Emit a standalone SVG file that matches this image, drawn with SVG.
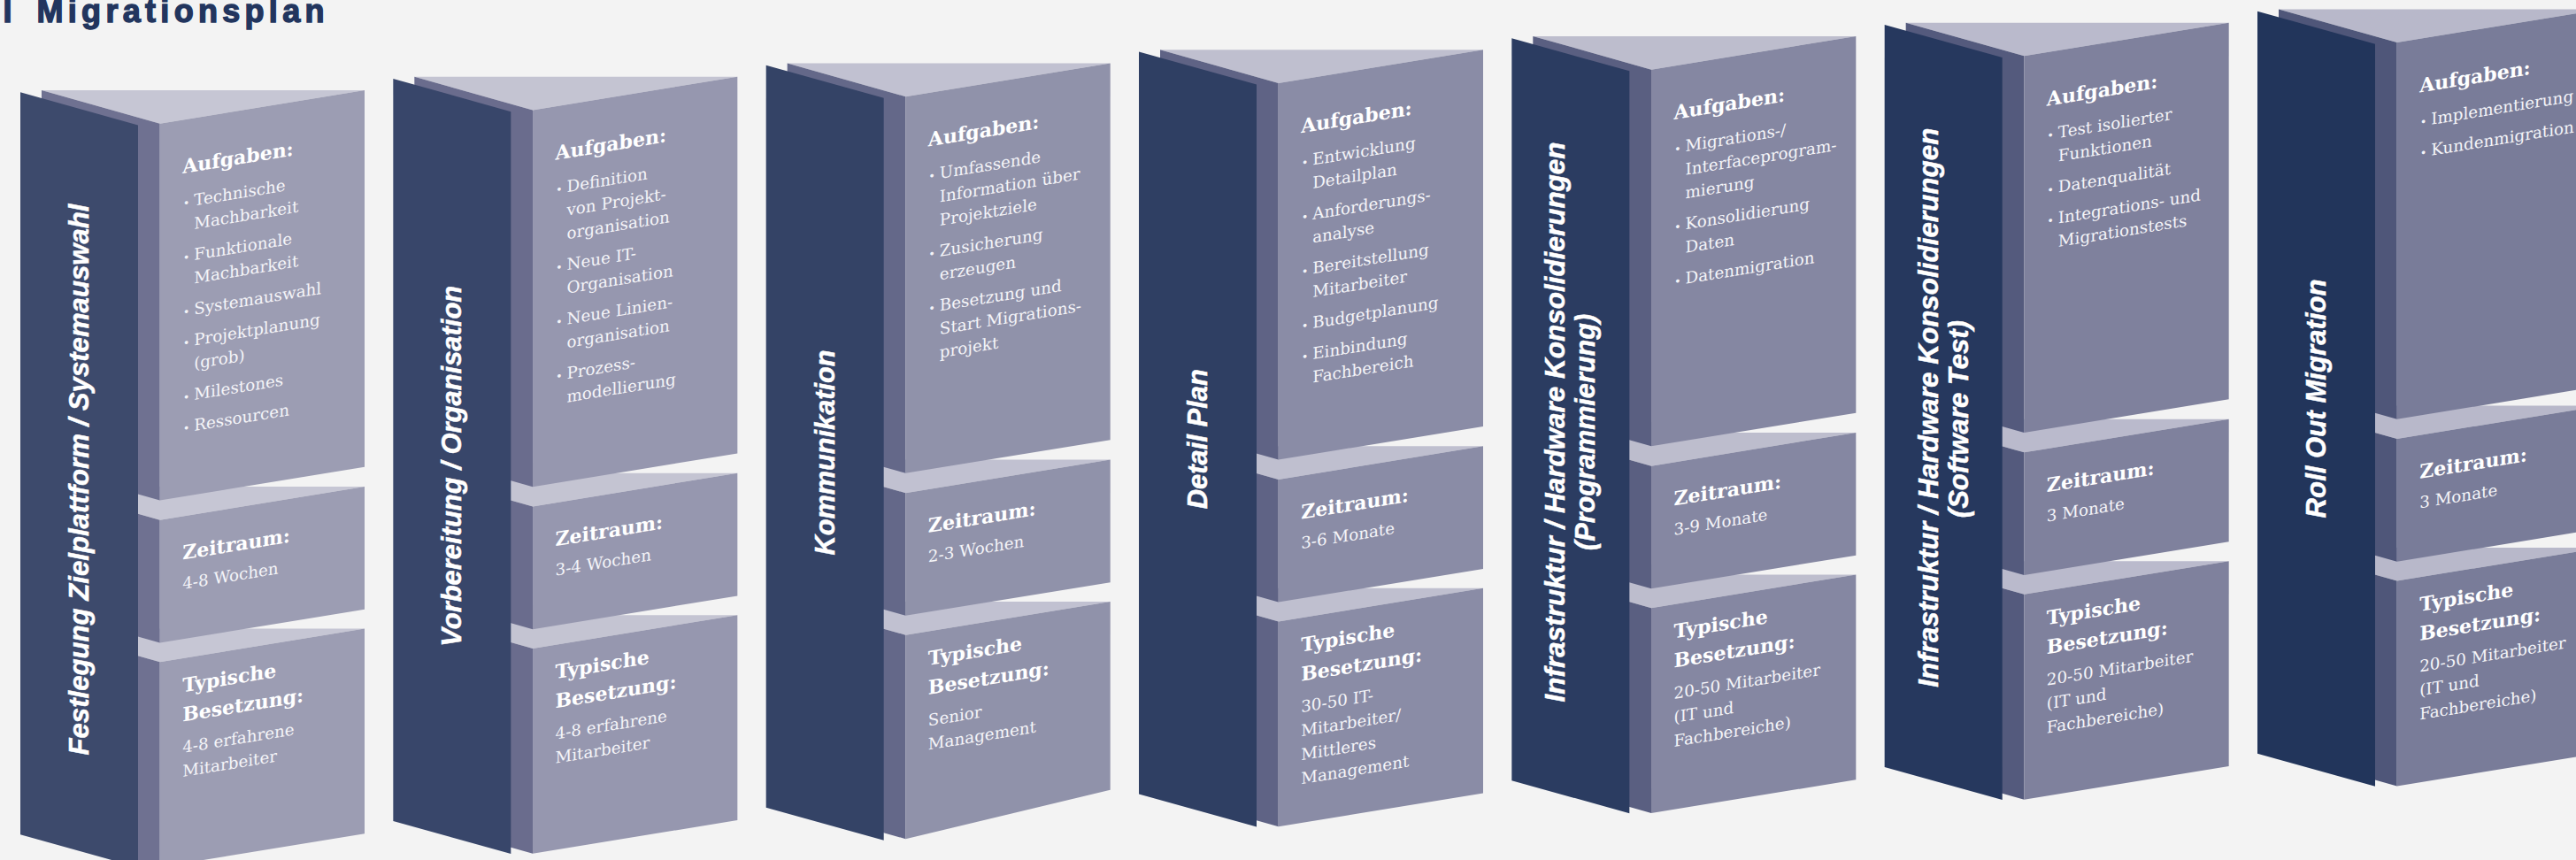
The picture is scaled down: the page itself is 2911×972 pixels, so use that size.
<svg xmlns="http://www.w3.org/2000/svg" width="2911" height="972" viewBox="0 0 2911 972">
<style>
.lbl{font-family:"Liberation Sans Narrow","Liberation Sans",Arial,sans-serif;font-weight:bold;font-style:italic;font-size:32px;fill:#ffffff;stroke:#ffffff;stroke-width:0.5;text-anchor:middle}
.h{font-family:"DejaVu Serif",serif;font-weight:bold;font-size:22px;fill:#ffffff}
.b{font-family:"DejaVu Serif",serif;font-size:18.3px;fill:#f4f4f8}
.bu{font-size:13px}
.title{font-family:"Liberation Sans",Arial,sans-serif;font-weight:bold;font-size:36px;fill:#22355e;stroke:#22355e;stroke-width:1.4}
.k1 .dk{fill:#3d4a6c}.k1 .sd{fill:#6f7191}.k1 .fr{fill:#9c9db3}.k1 .tp{fill:#c6c6d4}
.k2 .dk{fill:#38466a}.k2 .sd{fill:#6a6c8d}.k2 .fr{fill:#9697af}.k2 .tp{fill:#c4c4d2}
.k3 .dk{fill:#344366}.k3 .sd{fill:#646889}.k3 .fr{fill:#9092aa}.k3 .tp{fill:#c1c1d1}
.k4 .dk{fill:#2f3f63}.k4 .sd{fill:#5f6385}.k4 .fr{fill:#8a8ca6}.k4 .tp{fill:#bfbfcf}
.k5 .dk{fill:#2b3c61}.k5 .sd{fill:#5a5f81}.k5 .fr{fill:#8587a2}.k5 .tp{fill:#bdbdcd}
.k6 .dk{fill:#26385e}.k6 .sd{fill:#545a7d}.k6 .fr{fill:#7f819d}.k6 .tp{fill:#babacc}
.k7 .dk{fill:#22355b}.k7 .sd{fill:#4f5679}.k7 .fr{fill:#797c99}.k7 .tp{fill:#b8b8ca}
</style>
<rect x="0" y="0" width="2911" height="972" fill="#f3f3f3"/>
<g id="title">
<text class="title" x="3.5" y="25">I</text>
<text class="title" x="41.5" y="25" textLength="325" lengthAdjust="spacing">Migrationsplan</text>
</g>
<g id="connectors"></g>

<!-- Phase 1 -->
<g id="phase1" class="k1">
<polygon class="tp" points="47,710.5 412,710.5 180.7,748.2"/>
<polygon class="sd" points="47,710.5 180.7,748.2 180.7,980 47,942.3"/>
<polygon class="fr" points="180.7,748.2 412,710.5 412,942.3 180.7,980"/>
<polygon class="tp" points="47,550 412,550 180.7,587.7"/>
<polygon class="sd" points="47,550 180.7,587.7 180.7,726.4 47,688.7"/>
<polygon class="fr" points="180.7,587.7 412,550 412,688.7 180.7,726.4"/>
<polygon class="tp" points="47,102 412,102 180.7,139.7"/>
<polygon class="sd" points="47,102 180.7,139.7 180.7,565.4 47,527.7"/>
<polygon class="fr" points="180.7,139.7 412,102 412,527.7 180.7,565.4"/>
<polygon class="dk" points="23,104.3 156,141.4 156,980.3 23,943.3"/>
<text class="lbl" transform="translate(100,542) rotate(-90)" textLength="623" lengthAdjust="spacingAndGlyphs">Festlegung Zielplattform / Systemauswahl</text>
<g transform="translate(180.7,139.7) skewY(-9.26)">
<text class="h" x="25.5" y="60.5">Aufgaben:</text>
<text class="b"><tspan class="bu" x="26" y="99">•</tspan><tspan x="38.5" y="99">Technische</tspan><tspan x="38.5" y="125.5">Machbarkeit</tspan></text>
<text class="b"><tspan class="bu" x="26" y="160.5">•</tspan><tspan x="38.5" y="160.5">Funktionale</tspan><tspan x="38.5" y="187">Machbarkeit</tspan></text>
<text class="b"><tspan class="bu" x="26" y="222">•</tspan><tspan x="38.5" y="222">Systemauswahl</tspan></text>
<text class="b"><tspan class="bu" x="26" y="257">•</tspan><tspan x="38.5" y="257">Projektplanung</tspan><tspan x="38.5" y="283.5">(grob)</tspan></text>
<text class="b"><tspan class="bu" x="26" y="318.5">•</tspan><tspan x="38.5" y="318.5">Milestones</tspan></text>
<text class="b"><tspan class="bu" x="26" y="353.5">•</tspan><tspan x="38.5" y="353.5">Ressourcen</tspan></text>
</g>
<g transform="translate(180.7,587.7) skewY(-9.26)">
<text class="h" x="25.5" y="49">Zeitraum:</text>
<text class="b" x="25.5" y="82.5">4-8 Wochen</text>
</g>
<g transform="translate(180.7,748.2) skewY(-9.26)">
<text class="h"><tspan x="25.5" y="38.5">Typische</tspan><tspan x="25.5" y="71.5">Besetzung:</tspan></text>
<text class="b"><tspan x="25.5" y="107">4-8 erfahrene</tspan><tspan x="25.5" y="134">Mitarbeiter</tspan></text>
</g>
</g>

<!-- Phase 2 -->
<g id="phase2" class="k2" transform="translate(421.33,-15.27)">
<polygon class="tp" points="47,710.5 412,710.5 180.7,748.2"/>
<polygon class="sd" points="47,710.5 180.7,748.2 180.7,980 47,942.3"/>
<polygon class="fr" points="180.7,748.2 412,710.5 412,942.3 180.7,980"/>
<polygon class="tp" points="47,550 412,550 180.7,587.7"/>
<polygon class="sd" points="47,550 180.7,587.7 180.7,726.4 47,688.7"/>
<polygon class="fr" points="180.7,587.7 412,550 412,688.7 180.7,726.4"/>
<polygon class="tp" points="47,102 412,102 180.7,139.7"/>
<polygon class="sd" points="47,102 180.7,139.7 180.7,565.4 47,527.7"/>
<polygon class="fr" points="180.7,139.7 412,102 412,527.7 180.7,565.4"/>
<polygon class="dk" points="23,104.3 156,141.4 156,980.3 23,943.3"/>
<text class="lbl" transform="translate(100,542) rotate(-90)" textLength="408" lengthAdjust="spacingAndGlyphs">Vorbereitung / Organisation</text>
<g transform="translate(180.7,139.7) skewY(-9.26)">
<text class="h" x="25.5" y="60.5">Aufgaben:</text>
<text class="b"><tspan class="bu" x="26" y="99">•</tspan><tspan x="38.5" y="99">Definition</tspan><tspan x="38.5" y="125.5">von Projekt-</tspan><tspan x="38.5" y="152">organisation</tspan></text>
<text class="b"><tspan class="bu" x="26" y="187">•</tspan><tspan x="38.5" y="187">Neue IT-</tspan><tspan x="38.5" y="213.5">Organisation</tspan></text>
<text class="b"><tspan class="bu" x="26" y="248.5">•</tspan><tspan x="38.5" y="248.5">Neue Linien-</tspan><tspan x="38.5" y="275">organisation</tspan></text>
<text class="b"><tspan class="bu" x="26" y="310">•</tspan><tspan x="38.5" y="310">Prozess-</tspan><tspan x="38.5" y="336.5">modellierung</tspan></text>
</g>
<g transform="translate(180.7,587.7) skewY(-9.26)">
<text class="h" x="25.5" y="49">Zeitraum:</text>
<text class="b" x="25.5" y="82.5">3-4 Wochen</text>
</g>
<g transform="translate(180.7,748.2) skewY(-9.26)">
<text class="h"><tspan x="25.5" y="38.5">Typische</tspan><tspan x="25.5" y="71.5">Besetzung:</tspan></text>
<text class="b"><tspan x="25.5" y="107">4-8 erfahrene</tspan><tspan x="25.5" y="134">Mitarbeiter</tspan></text>
</g>
</g>

<!-- Phase 3 -->
<g id="phase3" class="k3" transform="translate(842.67,-30.53)">
<polygon class="tp" points="47,710.5 412,710.5 180.7,748.2"/>
<polygon class="sd" points="47,710.5 180.7,748.2 180.7,978.7 47,941"/>
<polygon class="fr" points="180.7,748.2 412,710.5 412,923.3 180.7,978.7"/>
<polygon class="tp" points="47,550 412,550 180.7,587.7"/>
<polygon class="sd" points="47,550 180.7,587.7 180.7,726.4 47,688.7"/>
<polygon class="fr" points="180.7,587.7 412,550 412,688.7 180.7,726.4"/>
<polygon class="tp" points="47,102 412,102 180.7,139.7"/>
<polygon class="sd" points="47,102 180.7,139.7 180.7,565.4 47,527.7"/>
<polygon class="fr" points="180.7,139.7 412,102 412,527.7 180.7,565.4"/>
<polygon class="dk" points="23,104.3 156,141.4 156,980.3 23,943.3"/>
<text class="lbl" transform="translate(100,542) rotate(-90)" textLength="232" lengthAdjust="spacingAndGlyphs">Kommunikation</text>
<g transform="translate(180.7,139.7) skewY(-9.26)">
<text class="h" x="25.5" y="60.5">Aufgaben:</text>
<text class="b"><tspan class="bu" x="26" y="99">•</tspan><tspan x="38.5" y="99">Umfassende</tspan><tspan x="38.5" y="125.5">Information über</tspan><tspan x="38.5" y="152">Projektziele</tspan></text>
<text class="b"><tspan class="bu" x="26" y="187">•</tspan><tspan x="38.5" y="187">Zusicherung</tspan><tspan x="38.5" y="213.5">erzeugen</tspan></text>
<text class="b"><tspan class="bu" x="26" y="248.5">•</tspan><tspan x="38.5" y="248.5">Besetzung und</tspan><tspan x="38.5" y="275">Start Migrations-</tspan><tspan x="38.5" y="301.5">projekt</tspan></text>
</g>
<g transform="translate(180.7,587.7) skewY(-9.26)">
<text class="h" x="25.5" y="49">Zeitraum:</text>
<text class="b" x="25.5" y="82.5">2-3 Wochen</text>
</g>
<g transform="translate(180.7,748.2) skewY(-9.26)">
<text class="h"><tspan x="25.5" y="38.5">Typische</tspan><tspan x="25.5" y="71.5">Besetzung:</tspan></text>
<text class="b"><tspan x="25.5" y="107">Senior</tspan><tspan x="25.5" y="134">Management</tspan></text>
</g>
</g>

<!-- Phase 4 -->
<g id="phase4" class="k4" transform="translate(1264,-45.8)">
<polygon class="tp" points="47,710.5 412,710.5 180.7,748.2"/>
<polygon class="sd" points="47,710.5 180.7,748.2 180.7,980 47,942.3"/>
<polygon class="fr" points="180.7,748.2 412,710.5 412,942.3 180.7,980"/>
<polygon class="tp" points="47,550 412,550 180.7,587.7"/>
<polygon class="sd" points="47,550 180.7,587.7 180.7,726.4 47,688.7"/>
<polygon class="fr" points="180.7,587.7 412,550 412,688.7 180.7,726.4"/>
<polygon class="tp" points="47,102 412,102 180.7,139.7"/>
<polygon class="sd" points="47,102 180.7,139.7 180.7,565.4 47,527.7"/>
<polygon class="fr" points="180.7,139.7 412,102 412,527.7 180.7,565.4"/>
<polygon class="dk" points="23,104.3 156,141.4 156,980.3 23,943.3"/>
<text class="lbl" transform="translate(100,542) rotate(-90)" textLength="158" lengthAdjust="spacingAndGlyphs">Detail Plan</text>
<g transform="translate(180.7,139.7) skewY(-9.26)">
<text class="h" x="25.5" y="60.5">Aufgaben:</text>
<text class="b"><tspan class="bu" x="26" y="99">•</tspan><tspan x="38.5" y="99">Entwicklung</tspan><tspan x="38.5" y="125.5">Detailplan</tspan></text>
<text class="b"><tspan class="bu" x="26" y="160.5">•</tspan><tspan x="38.5" y="160.5">Anforderungs-</tspan><tspan x="38.5" y="187">analyse</tspan></text>
<text class="b"><tspan class="bu" x="26" y="222">•</tspan><tspan x="38.5" y="222">Bereitstellung</tspan><tspan x="38.5" y="248.5">Mitarbeiter</tspan></text>
<text class="b"><tspan class="bu" x="26" y="283.5">•</tspan><tspan x="38.5" y="283.5">Budgetplanung</tspan></text>
<text class="b"><tspan class="bu" x="26" y="318.5">•</tspan><tspan x="38.5" y="318.5">Einbindung</tspan><tspan x="38.5" y="345">Fachbereich</tspan></text>
</g>
<g transform="translate(180.7,587.7) skewY(-9.26)">
<text class="h" x="25.5" y="49">Zeitraum:</text>
<text class="b" x="25.5" y="82.5">3-6 Monate</text>
</g>
<g transform="translate(180.7,748.2) skewY(-9.26)">
<text class="h"><tspan x="25.5" y="38.5">Typische</tspan><tspan x="25.5" y="71.5">Besetzung:</tspan></text>
<text class="b"><tspan x="25.5" y="107">30-50 IT-</tspan><tspan x="25.5" y="134">Mitarbeiter/</tspan><tspan x="25.5" y="161">Mittleres</tspan><tspan x="25.5" y="188">Management</tspan></text>
</g>
</g>

<!-- Phase 5 -->
<g id="phase5" class="k5" transform="translate(1685.33,-61.07)">
<polygon class="tp" points="47,710.5 412,710.5 180.7,748.2"/>
<polygon class="sd" points="47,710.5 180.7,748.2 180.7,980 47,942.3"/>
<polygon class="fr" points="180.7,748.2 412,710.5 412,942.3 180.7,980"/>
<polygon class="tp" points="47,550 412,550 180.7,587.7"/>
<polygon class="sd" points="47,550 180.7,587.7 180.7,726.4 47,688.7"/>
<polygon class="fr" points="180.7,587.7 412,550 412,688.7 180.7,726.4"/>
<polygon class="tp" points="47,102 412,102 180.7,139.7"/>
<polygon class="sd" points="47,102 180.7,139.7 180.7,565.4 47,527.7"/>
<polygon class="fr" points="180.7,139.7 412,102 412,527.7 180.7,565.4"/>
<polygon class="dk" points="23,104.3 156,141.4 156,980.3 23,943.3"/>
<text class="lbl" transform="translate(83,538) rotate(-90)" textLength="633" lengthAdjust="spacingAndGlyphs">Infrastruktur / Hardware Konsolidierungen</text>
<text class="lbl" transform="translate(117,549.5) rotate(-90)" textLength="267" lengthAdjust="spacingAndGlyphs">(Programmierung)</text>
<g transform="translate(180.7,139.7) skewY(-9.26)">
<text class="h" x="25.5" y="60.5">Aufgaben:</text>
<text class="b"><tspan class="bu" x="26" y="99">•</tspan><tspan x="38.5" y="99">Migrations-/</tspan><tspan x="38.5" y="125.5">Interfaceprogram-</tspan><tspan x="38.5" y="152">mierung</tspan></text>
<text class="b"><tspan class="bu" x="26" y="187">•</tspan><tspan x="38.5" y="187">Konsolidierung</tspan><tspan x="38.5" y="213.5">Daten</tspan></text>
<text class="b"><tspan class="bu" x="26" y="248.5">•</tspan><tspan x="38.5" y="248.5">Datenmigration</tspan></text>
</g>
<g transform="translate(180.7,587.7) skewY(-9.26)">
<text class="h" x="25.5" y="49">Zeitraum:</text>
<text class="b" x="25.5" y="82.5">3-9 Monate</text>
</g>
<g transform="translate(180.7,748.2) skewY(-9.26)">
<text class="h"><tspan x="25.5" y="38.5">Typische</tspan><tspan x="25.5" y="71.5">Besetzung:</tspan></text>
<text class="b"><tspan x="25.5" y="107">20-50 Mitarbeiter</tspan><tspan x="25.5" y="134">(IT und</tspan><tspan x="25.5" y="161">Fachbereiche)</tspan></text>
</g>
</g>

<!-- Phase 6 -->
<g id="phase6" class="k6" transform="translate(2106.67,-76.33)">
<polygon class="tp" points="47,710.5 412,710.5 180.7,748.2"/>
<polygon class="sd" points="47,710.5 180.7,748.2 180.7,980 47,942.3"/>
<polygon class="fr" points="180.7,748.2 412,710.5 412,942.3 180.7,980"/>
<polygon class="tp" points="47,550 412,550 180.7,587.7"/>
<polygon class="sd" points="47,550 180.7,587.7 180.7,726.4 47,688.7"/>
<polygon class="fr" points="180.7,587.7 412,550 412,688.7 180.7,726.4"/>
<polygon class="tp" points="47,102 412,102 180.7,139.7"/>
<polygon class="sd" points="47,102 180.7,139.7 180.7,565.4 47,527.7"/>
<polygon class="fr" points="180.7,139.7 412,102 412,527.7 180.7,565.4"/>
<polygon class="dk" points="23,104.3 156,141.4 156,980.3 23,943.3"/>
<text class="lbl" transform="translate(83,537) rotate(-90)" textLength="632" lengthAdjust="spacingAndGlyphs">Infrastruktur / Hardware Konsolidierungen</text>
<text class="lbl" transform="translate(117,550) rotate(-90)" textLength="223" lengthAdjust="spacingAndGlyphs">(Software Test)</text>
<g transform="translate(180.7,139.7) skewY(-9.26)">
<text class="h" x="25.5" y="60.5">Aufgaben:</text>
<text class="b"><tspan class="bu" x="26" y="99">•</tspan><tspan x="38.5" y="99">Test isolierter</tspan><tspan x="38.5" y="125.5">Funktionen</tspan></text>
<text class="b"><tspan class="bu" x="26" y="160.5">•</tspan><tspan x="38.5" y="160.5">Datenqualität</tspan></text>
<text class="b"><tspan class="bu" x="26" y="195.5">•</tspan><tspan x="38.5" y="195.5">Integrations- und</tspan><tspan x="38.5" y="222">Migrationstests</tspan></text>
</g>
<g transform="translate(180.7,587.7) skewY(-9.26)">
<text class="h" x="25.5" y="49">Zeitraum:</text>
<text class="b" x="25.5" y="82.5">3 Monate</text>
</g>
<g transform="translate(180.7,748.2) skewY(-9.26)">
<text class="h"><tspan x="25.5" y="38.5">Typische</tspan><tspan x="25.5" y="71.5">Besetzung:</tspan></text>
<text class="b"><tspan x="25.5" y="107">20-50 Mitarbeiter</tspan><tspan x="25.5" y="134">(IT und</tspan><tspan x="25.5" y="161">Fachbereiche)</tspan></text>
</g>
</g>

<!-- Phase 7 -->
<g id="phase7" class="k7" transform="translate(2528,-91.6)">
<polygon class="tp" points="47,710.5 412,710.5 180.7,748.2"/>
<polygon class="sd" points="47,710.5 180.7,748.2 180.7,980 47,942.3"/>
<polygon class="fr" points="180.7,748.2 412,710.5 412,942.3 180.7,980"/>
<polygon class="tp" points="47,550 412,550 180.7,587.7"/>
<polygon class="sd" points="47,550 180.7,587.7 180.7,726.4 47,688.7"/>
<polygon class="fr" points="180.7,587.7 412,550 412,688.7 180.7,726.4"/>
<polygon class="tp" points="47,102 412,102 180.7,139.7"/>
<polygon class="sd" points="47,102 180.7,139.7 180.7,565.4 47,527.7"/>
<polygon class="fr" points="180.7,139.7 412,102 412,527.7 180.7,565.4"/>
<polygon class="dk" points="23,104.3 156,141.4 156,980.3 23,943.3"/>
<text class="lbl" transform="translate(100,542) rotate(-90)" textLength="270" lengthAdjust="spacingAndGlyphs">Roll Out Migration</text>
<g transform="translate(180.7,139.7) skewY(-9.26)">
<text class="h" x="25.5" y="60.5">Aufgaben:</text>
<text class="b"><tspan class="bu" x="26" y="99">•</tspan><tspan x="38.5" y="99">Implementierung</tspan></text>
<text class="b"><tspan class="bu" x="26" y="134">•</tspan><tspan x="38.5" y="134">Kundenmigration</tspan></text>
</g>
<g transform="translate(180.7,587.7) skewY(-9.26)">
<text class="h" x="25.5" y="49">Zeitraum:</text>
<text class="b" x="25.5" y="82.5">3 Monate</text>
</g>
<g transform="translate(180.7,748.2) skewY(-9.26)">
<text class="h"><tspan x="25.5" y="38.5">Typische</tspan><tspan x="25.5" y="71.5">Besetzung:</tspan></text>
<text class="b"><tspan x="25.5" y="107">20-50 Mitarbeiter</tspan><tspan x="25.5" y="134">(IT und</tspan><tspan x="25.5" y="161">Fachbereiche)</tspan></text>
</g>
</g>
</svg>
